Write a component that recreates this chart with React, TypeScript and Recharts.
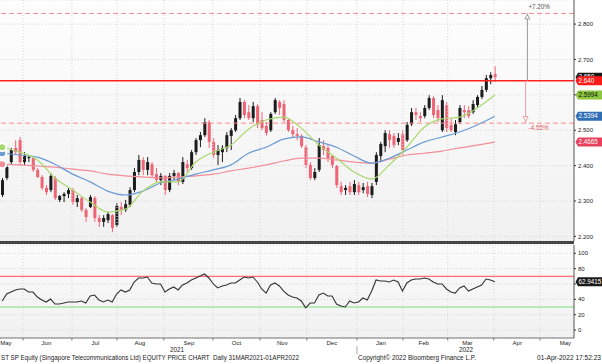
import React from "react";
import {
  ComposedChart,
  Bar,
  Line,
  XAxis,
  YAxis,
  CartesianGrid,
  ReferenceLine,
  ReferenceDot,
} from "recharts";

const FONT = "'Liberation Sans', Arial, sans-serif";

// x axis is in trading-day slots, 0 = left edge of the plot
const X_DOMAIN: [number, number] = [0, 261];

const monthStarts = [10.5, 32.7, 53.2, 74.5, 96.8, 118.2, 139.5, 162.3, 183.2, 203.6, 224.5, 245.5];
const monthTicks = [2.7, 21.1, 43.4, 63.6, 85.9, 107.5, 128.4, 150.9, 173.2, 192.7, 212.5, 235.2, 257.1];
const monthNames = ["May", "Jun", "Jul", "Aug", "Sep", "Oct", "Nov", "Dec", "Jan", "Feb", "Mar", "Apr", "May"];
const yearStart = 162.3;

const priceTicks = [2.2, 2.3, 2.4, 2.5, 2.6, 2.7, 2.8];
const rsiTicks = [0, 20, 40, 60, 80, 100];

// reference level and the two targets drawn from it
const baseLevel = 2.64;
const upperLevel = 2.83;
const lowerLevel = 2.52;

// candles, one every two trading days
const opens = [
  2.317, 2.365, 2.41, 2.45, 2.472, 2.41, 2.421, 2.421, 2.388, 2.368,
  2.337, 2.331, 2.365, 2.303, 2.314, 2.32, 2.331, 2.297, 2.308, 2.275,
  2.283, 2.308, 2.252, 2.241, 2.246, 2.26, 2.232, 2.283, 2.275, 2.289,
  2.331, 2.382, 2.416, 2.388, 2.404, 2.376, 2.359, 2.371, 2.331, 2.371,
  2.379, 2.354, 2.404, 2.393, 2.438, 2.472, 2.486, 2.523, 2.467, 2.43,
  2.438, 2.45, 2.484, 2.5, 2.534, 2.58, 2.551, 2.534, 2.568, 2.529,
  2.512, 2.5, 2.551, 2.58, 2.574, 2.529, 2.5, 2.489, 2.484, 2.452,
  2.402, 2.365, 2.388, 2.455, 2.45, 2.427, 2.399, 2.342, 2.331, 2.342,
  2.325, 2.345, 2.331, 2.342, 2.317, 2.354, 2.427, 2.455, 2.489, 2.484,
  2.467, 2.489, 2.472, 2.517, 2.551, 2.54, 2.54, 2.563, 2.591, 2.557,
  2.5, 2.571, 2.515, 2.495, 2.523, 2.557, 2.557, 2.551, 2.571, 2.594,
  2.614, 2.647, 2.659,
];
const highs = [
  2.365, 2.402, 2.45, 2.472, 2.481, 2.438, 2.43, 2.427, 2.393, 2.373,
  2.345, 2.379, 2.371, 2.317, 2.325, 2.337, 2.337, 2.317, 2.314, 2.28,
  2.317, 2.314, 2.26, 2.26, 2.269, 2.263, 2.294, 2.297, 2.303, 2.339,
  2.393, 2.43, 2.424, 2.424, 2.41, 2.393, 2.379, 2.373, 2.379, 2.388,
  2.382, 2.424, 2.416, 2.444, 2.478, 2.495, 2.534, 2.529, 2.478, 2.458,
  2.458, 2.495, 2.506, 2.543, 2.591, 2.585, 2.571, 2.58, 2.574, 2.551,
  2.523, 2.551, 2.591, 2.585, 2.585, 2.534, 2.512, 2.506, 2.489, 2.458,
  2.41, 2.393, 2.478, 2.472, 2.458, 2.43, 2.402, 2.354, 2.345, 2.354,
  2.359, 2.354, 2.351, 2.354, 2.351, 2.438, 2.467, 2.5, 2.5, 2.492,
  2.492, 2.5, 2.523, 2.563, 2.563, 2.551, 2.571, 2.599, 2.596, 2.571,
  2.599, 2.58, 2.534, 2.529, 2.571, 2.571, 2.568, 2.585, 2.599, 2.625,
  2.656, 2.664, 2.681,
];
const lows = [
  2.311, 2.359, 2.402, 2.43, 2.402, 2.402, 2.41, 2.382, 2.365, 2.331,
  2.317, 2.325, 2.303, 2.297, 2.297, 2.308, 2.289, 2.283, 2.269, 2.241,
  2.28, 2.241, 2.227, 2.227, 2.238, 2.212, 2.227, 2.26, 2.269, 2.283,
  2.325, 2.373, 2.373, 2.373, 2.368, 2.354, 2.345, 2.317, 2.325, 2.359,
  2.345, 2.348, 2.382, 2.388, 2.43, 2.452, 2.481, 2.45, 2.421, 2.402,
  2.41, 2.438, 2.444, 2.495, 2.529, 2.534, 2.529, 2.523, 2.506, 2.5,
  2.484, 2.495, 2.546, 2.543, 2.523, 2.495, 2.478, 2.472, 2.45, 2.393,
  2.359, 2.359, 2.382, 2.43, 2.41, 2.393, 2.337, 2.317, 2.317, 2.317,
  2.317, 2.317, 2.322, 2.311, 2.308, 2.345, 2.41, 2.438, 2.45, 2.45,
  2.458, 2.43, 2.467, 2.512, 2.529, 2.523, 2.534, 2.557, 2.534, 2.523,
  2.495, 2.495, 2.495, 2.486, 2.517, 2.534, 2.534, 2.546, 2.563, 2.588,
  2.608, 2.63, 2.636,
];
const closes = [
  2.359, 2.396, 2.444, 2.438, 2.41, 2.43, 2.424, 2.388, 2.368, 2.337,
  2.325, 2.371, 2.308, 2.314, 2.32, 2.331, 2.297, 2.308, 2.275, 2.255,
  2.311, 2.252, 2.241, 2.252, 2.263, 2.224, 2.286, 2.275, 2.291, 2.331,
  2.382, 2.416, 2.388, 2.41, 2.373, 2.359, 2.371, 2.331, 2.371, 2.379,
  2.354, 2.41, 2.393, 2.438, 2.472, 2.486, 2.523, 2.467, 2.43, 2.444,
  2.45, 2.486, 2.5, 2.534, 2.58, 2.543, 2.534, 2.568, 2.517, 2.506,
  2.492, 2.546, 2.585, 2.563, 2.529, 2.5, 2.489, 2.484, 2.455, 2.402,
  2.365, 2.382, 2.458, 2.444, 2.421, 2.402, 2.345, 2.325, 2.337, 2.325,
  2.348, 2.325, 2.339, 2.32, 2.342, 2.43, 2.461, 2.492, 2.472, 2.458,
  2.478, 2.444, 2.515, 2.551, 2.543, 2.534, 2.563, 2.591, 2.543, 2.534,
  2.585, 2.506, 2.5, 2.517, 2.563, 2.551, 2.54, 2.574, 2.594, 2.614,
  2.647, 2.656, 2.65,
];

// RSI, same slots as the candles
const rsi = [
  37.8, 46.9, 49.5, 52.2, 53.5, 53.5, 49.5, 49.5, 43.0, 39.1,
  36.5, 40.4, 33.9, 33.9, 35.2, 36.5, 36.5, 36.5, 37.8, 35.2,
  44.3, 45.6, 39.1, 36.5, 39.1, 36.5, 46.9, 52.2, 49.5, 52.2,
  62.6, 67.8, 67.8, 69.1, 61.3, 60.0, 60.0, 49.5, 53.5, 56.1,
  52.2, 58.7, 61.3, 65.2, 67.8, 70.4, 73.0, 67.8, 60.0, 54.8,
  57.4, 58.7, 61.3, 61.3, 65.2, 69.1, 67.8, 69.1, 62.6, 53.5,
  48.2, 58.7, 61.3, 57.4, 50.8, 45.6, 43.0, 41.7, 37.8, 29.0,
  35.2, 35.2, 45.6, 48.2, 44.3, 44.3, 33.9, 31.3, 30.0, 37.8,
  35.2, 36.5, 41.7, 39.1, 50.8, 65.2, 63.9, 63.9, 62.6, 65.2,
  62.6, 50.8, 61.3, 65.2, 66.5, 66.5, 67.8, 66.5, 62.6, 60.0,
  60.0, 53.5, 49.5, 48.2, 54.8, 57.4, 50.8, 53.5, 56.1, 58.7,
  66.5, 65.2, 62.9415,
];

// moving averages read every 4th candle
const maSlots = [1, 9, 17, 25, 33, 41, 49, 57, 65, 73, 81, 89, 97, 105, 113, 121, 129, 137, 145, 153, 161, 169, 177, 185, 193, 201, 209, 217, 225];
const ma20 = [
  2.452, 2.438, 2.416, 2.365, 2.331, 2.297, 2.269, 2.277, 2.328, 2.354,
  2.354, 2.41, 2.438, 2.458, 2.503, 2.529, 2.537, 2.506, 2.458, 2.421,
  2.382, 2.362, 2.402, 2.452, 2.509, 2.532, 2.537, 2.563, 2.5994,
];
const ma50 = [
  2.435, 2.43, 2.424, 2.404, 2.376, 2.354, 2.328, 2.317, 2.328, 2.351,
  2.362, 2.376, 2.388, 2.402, 2.435, 2.452, 2.475, 2.481, 2.467, 2.452,
  2.427, 2.407, 2.421, 2.444, 2.467, 2.481, 2.495, 2.515, 2.5394,
];
const ma200 = [
  2.404, 2.402, 2.399, 2.396, 2.39, 2.385, 2.376, 2.371, 2.368, 2.365,
  2.368, 2.371, 2.376, 2.385, 2.393, 2.402, 2.413, 2.421, 2.421, 2.416,
  2.41, 2.407, 2.418, 2.43, 2.435, 2.441, 2.45, 2.458, 2.4665,
];

const UP = "#1c1c1c";
const DOWN = "#ef6474";
const GREEN = "#a9d86e";
const BLUE = "#6a9ad6";
const PINK = "#f28d98";
const GRID = "#d6d6d6";

const priceRows: any[] = closes.map((c, k) => ({
  t: 2 * k + 1,
  o: opens[k],
  h: highs[k],
  l: lows[k],
  c,
  range: [lows[k], highs[k]],
}));
maSlots.forEach((s, j) => {
  const row = priceRows.find((r) => r.t === s);
  if (row) {
    row.ma20 = ma20[j];
    row.ma50 = ma50[j];
    row.ma200 = ma200[j];
  }
});

const rsiRows = rsi.map((v, k) => ({ t: 2 * k + 1, rsi: v }));

const last = (a: number[]) => a[a.length - 1];
const pct = (v: number) => {
  const p = (v / baseLevel - 1) * 100;
  return `${p > 0 ? "+" : ""}${p.toFixed(2)}%`;
};

// tick labels that sit under a value tag are not shown (as on the terminal)
const priceTags = [last(closes), baseLevel, last(ma20), last(ma50), last(ma200)];
const priceTickLabel = (v: number) =>
  priceTags.some((t) => Math.abs(t - v) < 0.014) ? "" : v.toFixed(3);
const rsiTickLabel = (v: number) => (Math.abs(last(rsi) - v) < 7 ? "" : String(v));

function Candle(props: any) {
  const { x, y, width, height, payload } = props;
  if (!payload || x == null || y == null) return null;
  const { o, h, l, c } = payload;
  const top = Math.min(y, y + height);
  const bottom = Math.max(y, y + height);
  const k = h > l ? (bottom - top) / (h - l) : 0;
  const yO = top + (h - o) * k;
  const yC = top + (h - c) * k;
  const up = c >= o;
  const mid = x + width / 2;
  return (
    <g>
      <line x1={mid} x2={mid} y1={top} y2={bottom} stroke={up ? UP : DOWN} strokeWidth={1} />
      <rect x={x} y={Math.min(yO, yC)} width={width} height={Math.max(1, Math.abs(yO - yC))} fill={up ? UP : DOWN} />
    </g>
  );
}

function Tag(props: any) {
  const { cx, cy, bg, fg, text } = props;
  if (cx == null || cy == null) return null;
  return (
    <g>
      <path
        d={`M${cx + 1.5},${cy} L${cx + 4},${cy - 4.5} L${cx + 28},${cy - 4.5} L${cx + 28},${cy + 4.5} L${cx + 4},${cy + 4.5} Z`}
        fill={bg}
      />
      <text x={cx + 4.5} y={cy} dy="0.35em" fontSize={6.3} fontFamily={FONT} fill={fg}>
        {text}
      </text>
    </g>
  );
}

function UpMark(props: any) {
  const { cx, cy, text } = props;
  if (cx == null || cy == null) return null;
  return (
    <g>
      <path d={`M${cx},${cy + 1} L${cx + 2.5},${cy + 5.5} L${cx - 2.5},${cy + 5.5} Z`} fill="#fff" stroke="#888" strokeWidth={0.8} />
      <text x={cx + 1} y={cy - 7} dy="0.35em" fontSize={6.3} fontFamily={FONT} fill="#555">
        {text}
      </text>
    </g>
  );
}

function DownMark(props: any) {
  const { cx, cy, text } = props;
  if (cx == null || cy == null) return null;
  return (
    <g>
      <path d={`M${cx},${cy - 2} L${cx + 2.5},${cy - 6.5} L${cx - 2.5},${cy - 6.5} Z`} fill="#fff" stroke="#e88" strokeWidth={0.8} />
      <text x={cx + 3} y={cy + 4.5} dy="0.35em" fontSize={6.3} fontFamily={FONT} fill="#e05a64">
        {text}
      </text>
    </g>
  );
}

const tickStyle = { fontSize: 6, fill: "#1a1a1a", fontFamily: FONT };

export default function App() {
  return (
    <div style={{ position: "absolute", left: 0, top: 0, width: 602, height: 364, background: "#fff", overflow: "hidden" }}>
      <div style={{ position: "absolute", left: 0, top: 0, width: 574, height: 241, background: "linear-gradient(#fefefe, #f1f1f1)" }} />
      <div style={{ position: "absolute", left: 0, top: 244, width: 574, height: 94, background: "linear-gradient(#fbfbfb, #f1f1f1)" }} />

      <div style={{ position: "absolute", left: 0, top: 0 }}>
        <ComposedChart width={602} height={241} data={priceRows} margin={{ top: 0, right: 0, bottom: 0, left: 0 }}>
          <XAxis dataKey="t" type="number" domain={X_DOMAIN} allowDataOverflow hide />
          <YAxis
            orientation="right"
            type="number"
            domain={[2.187, 2.868]}
            allowDataOverflow
            ticks={priceTicks}
            interval={0}
            width={28}
            tickFormatter={priceTickLabel}
            tick={tickStyle}
            tickSize={2}
            tickMargin={2}
            axisLine={{ stroke: "#555" }}
            tickLine={{ stroke: "#333" }}
          />
          <CartesianGrid vertical={false} stroke={GRID} strokeDasharray="1 2" />
          {monthStarts.map((m) => (
            <ReferenceLine key={m} x={m} stroke={GRID} strokeDasharray="1 2" />
          ))}
          <ReferenceLine y={upperLevel} stroke="#ff8a8a" strokeDasharray="5 3" />
          <ReferenceLine y={lowerLevel} stroke="#ff8a8a" strokeDasharray="5 3" />
          <Bar dataKey="range" barSize={3} isAnimationActive={false} shape={(p: any) => <Candle {...p} />} />
          <Line dataKey="ma200" type="monotone" stroke={PINK} strokeWidth={1.2} dot={false} connectNulls isAnimationActive={false} />
          <Line dataKey="ma50" type="monotone" stroke={BLUE} strokeWidth={1.2} dot={false} connectNulls isAnimationActive={false} />
          <Line dataKey="ma20" type="monotone" stroke={GREEN} strokeWidth={1.2} dot={false} connectNulls isAnimationActive={false} />
          <ReferenceLine y={baseLevel} stroke="#ff1f1f" strokeWidth={1.6} />
          <ReferenceLine
            segment={[{ x: 239.8, y: baseLevel }, { x: 239.8, y: upperLevel }]}
            stroke="#9a9a9a"
            ifOverflow="visible"
          />
          <ReferenceLine
            segment={[{ x: 239.0, y: baseLevel }, { x: 239.0, y: lowerLevel }]}
            stroke="#f19aa0"
            ifOverflow="visible"
          />
          <ReferenceDot x={239.8} y={upperLevel} ifOverflow="visible" shape={(p: any) => <UpMark {...p} text={pct(upperLevel)} />} />
          <ReferenceDot x={239.0} y={lowerLevel} ifOverflow="visible" shape={(p: any) => <DownMark {...p} text={pct(lowerLevel)} />} />
          <ReferenceDot x={X_DOMAIN[1]} y={last(closes)} ifOverflow="visible" shape={(p: any) => <Tag {...p} bg="#1a1a1a" fg="#fff" text={last(closes).toFixed(3)} />} />
          <ReferenceDot x={X_DOMAIN[1]} y={baseLevel} ifOverflow="visible" shape={(p: any) => <Tag {...p} bg="#ff1a1a" fg="#fff" text={baseLevel.toFixed(3)} />} />
          <ReferenceDot x={X_DOMAIN[1]} y={last(ma20)} ifOverflow="visible" shape={(p: any) => <Tag {...p} bg="#8dc63f" fg="#111" text={last(ma20).toFixed(4)} />} />
          <ReferenceDot x={X_DOMAIN[1]} y={last(ma50)} ifOverflow="visible" shape={(p: any) => <Tag {...p} bg="#2f6db5" fg="#fff" text={last(ma50).toFixed(4)} />} />
          <ReferenceDot x={X_DOMAIN[1]} y={last(ma200)} ifOverflow="visible" shape={(p: any) => <Tag {...p} bg="#e8405a" fg="#fff" text={last(ma200).toFixed(4)} />} />
        </ComposedChart>
      </div>

      <div style={{ position: "absolute", left: 0, top: 241, width: 574, height: 3, background: "#454545" }} />

      <div style={{ position: "absolute", left: 0, top: 244 }}>
        <ComposedChart width={602} height={120} data={rsiRows} margin={{ top: 1, right: 0, bottom: 0, left: 0 }}>
          <XAxis
            dataKey="t"
            type="number"
            domain={X_DOMAIN}
            allowDataOverflow
            ticks={monthTicks}
            interval={0}
            height={26}
            tickFormatter={(_v: number, i: number) => monthNames[i]}
            tick={tickStyle}
            tickLine={false}
            tickSize={0}
            tickMargin={3}
            axisLine={{ stroke: "#777" }}
          />
          <YAxis
            orientation="right"
            type="number"
            domain={[-10.4, 110.8]}
            allowDataOverflow
            ticks={rsiTicks}
            interval={0}
            width={28}
            tickFormatter={rsiTickLabel}
            tick={tickStyle}
            tickSize={2}
            tickMargin={2}
            axisLine={{ stroke: "#555" }}
            tickLine={{ stroke: "#333" }}
          />
          <CartesianGrid vertical={false} stroke={GRID} strokeDasharray="1 2" />
          {monthStarts.map((m) => (
            <ReferenceLine key={m} x={m} stroke={GRID} strokeDasharray="1 2" />
          ))}
          {monthStarts.map((m) => (
            <ReferenceLine key={`t${m}`} segment={[{ x: m, y: -10.4 }, { x: m, y: -13.6 }]} stroke="#777" ifOverflow="visible" />
          ))}
          <ReferenceLine segment={[{ x: yearStart, y: -20.8 }, { x: yearStart, y: -31.3 }]} stroke="#aaa" ifOverflow="visible" />
          <ReferenceLine y={70} stroke="#ff4a4a" />
          <ReferenceLine y={30} stroke="#7bdc7b" />
          <Line dataKey="rsi" type="linear" stroke="#333" strokeWidth={1.1} dot={false} isAnimationActive={false} />
          <ReferenceDot x={X_DOMAIN[1]} y={last(rsi)} ifOverflow="visible" shape={(p: any) => <Tag {...p} bg="#1a1a1a" fg="#fff" text={last(rsi).toFixed(4)} />} />
        </ComposedChart>
      </div>

      <svg width={602} height={364} style={{ position: "absolute", left: 0, top: 0, pointerEvents: "none" }}>
        <g fontFamily={FONT} fontSize={6.3} fill="#222">
          <text x={177} y={350} textAnchor="middle" dy="0.35em">2021</text>
          <text x={466} y={350} textAnchor="middle" dy="0.35em">2022</text>
          <text x={1} y={358} dy="0.35em" textLength={298} lengthAdjust="spacingAndGlyphs" style={{ whiteSpace: "pre" }}>
            {"ST SP Equity (Singapore Telecommunications Ltd) EQUITY PRICE CHART  Daily 31MAR2021-01APR2022"}
          </text>
          <text x={358} y={358} dy="0.35em" textLength={118} lengthAdjust="spacingAndGlyphs">
            Copyright© 2022 Bloomberg Finance L.P.
          </text>
          <text x={537} y={358} dy="0.35em" textLength={64} lengthAdjust="spacingAndGlyphs">
            01-Apr-2022 17:52:23
          </text>
        </g>
      </svg>
    </div>
  );
}
